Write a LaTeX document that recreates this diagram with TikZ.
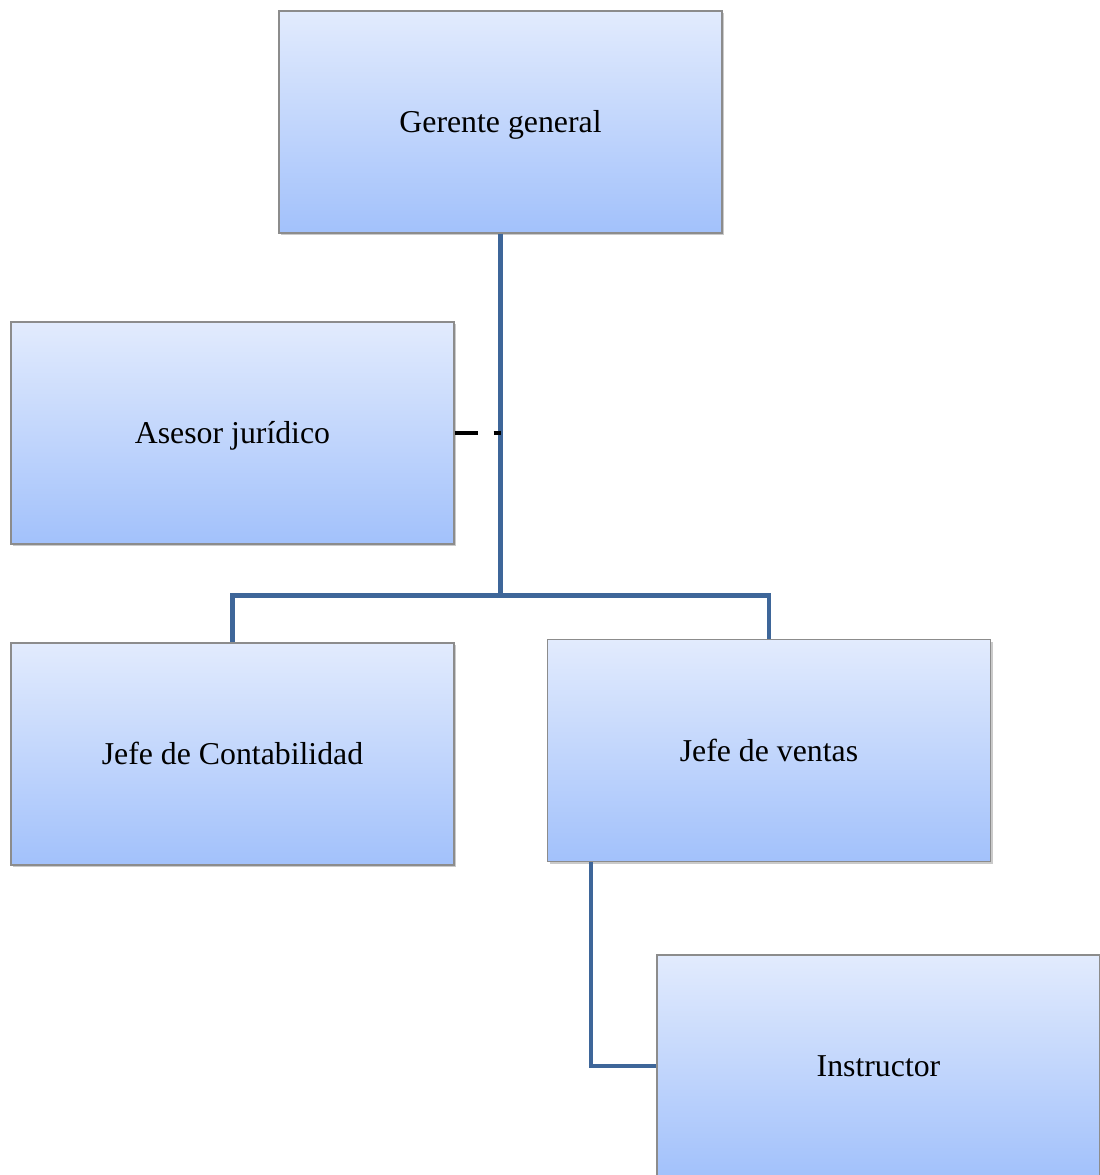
\documentclass[tikz,border=0pt]{standalone}
\usepackage{fontspec}
\setmainfont{Liberation Serif}
\usetikzlibrary{shadows}
\definecolor{boxtop}{HTML}{E2EBFD}
\definecolor{boxbottom}{HTML}{A2C1FB}
\definecolor{boxedge}{HTML}{8C8C8C}
\definecolor{linkblue}{HTML}{3E6699}
\tikzset{
  orgbox/.style={rectangle, minimum width=443pt, minimum height=222pt, inner sep=0pt,
    text height=21pt, text depth=0pt,
    top color=boxtop, bottom color=boxbottom, draw=boxedge, line width=1.2pt,
    drop shadow={shadow xshift=2pt, shadow yshift=-2pt, fill=black!35, opacity=0.6},
    font=\fontsize{31.8pt}{36pt}\selectfont},
  link/.style={draw=linkblue, line width=4.5pt},
  advice/.style={draw=black, line width=4.5pt, dash pattern=on 23pt off 16pt}
}
\begin{document}
\begin{tikzpicture}[x=1pt, y=-1pt]
  \useasboundingbox (0,0) rectangle (1100,1175);
  \clip (0,0) rectangle (1100,1175);
  % positions of the five posts
  \node[orgbox] (ger) at (500.5,122) {Gerente general};
  \node[orgbox] (ase) at (232.5,433) {Asesor jurídico};
  \node[orgbox] (con) at (232.5,754) {Jefe de Contabilidad};
  \node[orgbox] (ven) at (769,750.5) {Jefe de ventas};
  \node[orgbox] (ins) at (878.5,1066) {Instructor};
  % branching point below the general manager
  \coordinate (jn) at (500.5,595.5);
  % solid reporting lines
  \draw[link] (ger.south) -- (jn);
  \draw[link] (jn) -| (con.north);
  \draw[link] (jn) -| (ven.north);
  \draw[link] ([xshift=-178pt]ven.south) |- (ins.west);
  % dashed advisory line
  \draw[advice] (ase.east) -- (ger.south |- ase.east);
\end{tikzpicture}
\end{document}
